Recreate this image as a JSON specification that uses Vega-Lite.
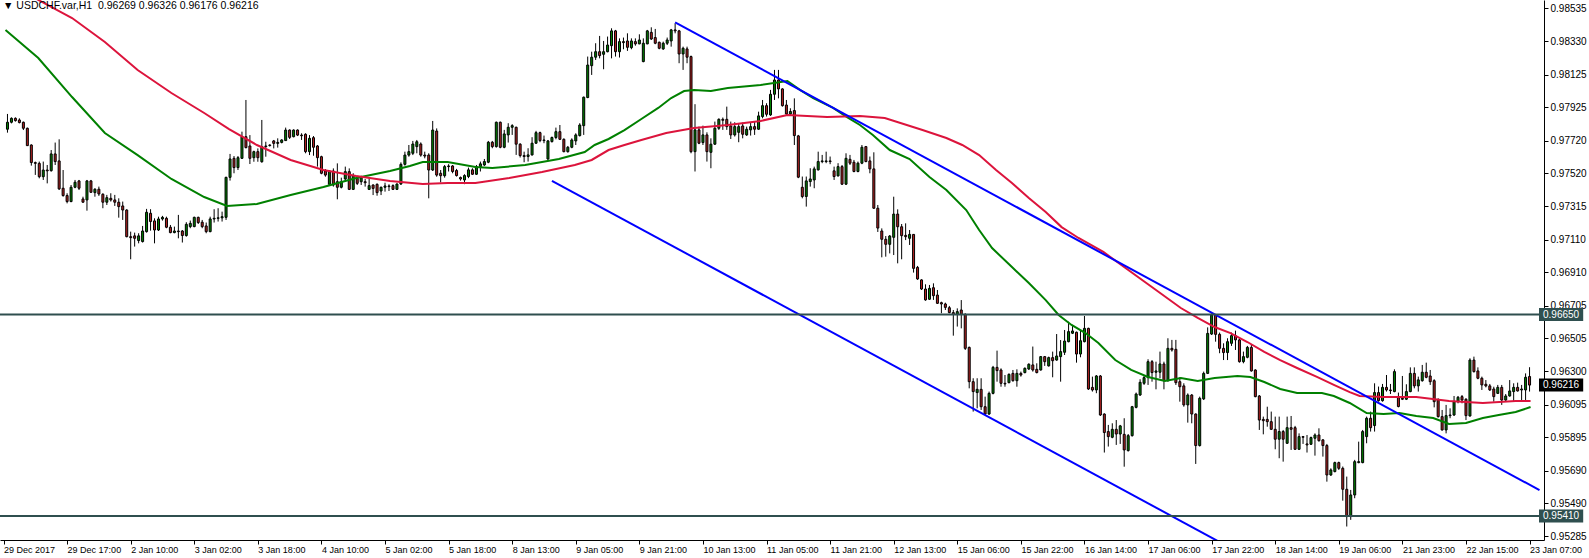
{
"$schema":"https://vega.github.io/schema/vega-lite/v6.json",
"width":1544,"height":540,
"autosize":{"type":"none"},
"padding":{"left":0,"top":0,"right":45,"bottom":18},
"background":"white",
"config":{"view":{"stroke":null},"font":"Liberation Sans","axis":{"labelOverlap":false,"labelFlush":false,"labelBound":false,"grid":false}},
"title":{"text":"▼ USDCHF.var,H1\u00a0\u00a00.96269 0.96326 0.96176 0.96216","anchor":"start","frame":"group","orient":"top","offset":-11,"font":"Liberation Sans","fontSize":10.5,"fontWeight":"normal","color":"black","dx":3},
"datasets":{
"bars":[
{"i":1,"o":0.97790,"h":0.97884,"l":0.97769,"c":0.97833},
{"i":2,"o":0.97833,"h":0.97863,"l":0.97826,"c":0.97857},
{"i":3,"o":0.97857,"h":0.97863,"l":0.97837,"c":0.97843},
{"i":4,"o":0.97847,"h":0.97857,"l":0.97826,"c":0.97831},
{"i":5,"o":0.97833,"h":0.97837,"l":0.97785,"c":0.97796},
{"i":6,"o":0.97796,"h":0.97800,"l":0.97687,"c":0.97689},
{"i":7,"o":0.97693,"h":0.97697,"l":0.97566,"c":0.97585},
{"i":8,"o":0.97585,"h":0.97591,"l":0.97509,"c":0.97580},
{"i":9,"o":0.97580,"h":0.97591,"l":0.97488,"c":0.97498},
{"i":10,"o":0.97498,"h":0.97591,"l":0.97478,"c":0.97539},
{"i":11,"o":0.97539,"h":0.97570,"l":0.97457,"c":0.97534},
{"i":12,"o":0.97535,"h":0.97662,"l":0.97529,"c":0.97638},
{"i":13,"o":0.97638,"h":0.97708,"l":0.97570,"c":0.97591},
{"i":14,"o":0.97595,"h":0.97728,"l":0.97416,"c":0.97423},
{"i":15,"o":0.97427,"h":0.97539,"l":0.97375,"c":0.97382},
{"i":16,"o":0.97382,"h":0.97396,"l":0.97334,"c":0.97345},
{"i":17,"o":0.97345,"h":0.97447,"l":0.97341,"c":0.97433},
{"i":18,"o":0.97433,"h":0.97478,"l":0.97427,"c":0.97464},
{"i":19,"o":0.97472,"h":0.97478,"l":0.97416,"c":0.97427},
{"i":20,"o":0.97361,"h":0.97375,"l":0.97339,"c":0.97341},
{"i":21,"o":0.97355,"h":0.97478,"l":0.97289,"c":0.97472},
{"i":22,"o":0.97472,"h":0.97478,"l":0.97400,"c":0.97402},
{"i":23,"o":0.97400,"h":0.97427,"l":0.97375,"c":0.97421},
{"i":24,"o":0.97421,"h":0.97437,"l":0.97380,"c":0.97392},
{"i":25,"o":0.97390,"h":0.97396,"l":0.97304,"c":0.97341},
{"i":26,"o":0.97341,"h":0.97386,"l":0.97324,"c":0.97369},
{"i":27,"o":0.97365,"h":0.97396,"l":0.97345,"c":0.97355},
{"i":28,"o":0.97355,"h":0.97386,"l":0.97318,"c":0.97341},
{"i":29,"o":0.97341,"h":0.97365,"l":0.97246,"c":0.97314},
{"i":30,"o":0.97318,"h":0.97345,"l":0.97232,"c":0.97293},
{"i":31,"o":0.97293,"h":0.97298,"l":0.97125,"c":0.97129},
{"i":32,"o":0.97129,"h":0.97160,"l":0.96990,"c":0.97123},
{"i":33,"o":0.97134,"h":0.97154,"l":0.97068,"c":0.97119},
{"i":34,"o":0.97105,"h":0.97150,"l":0.97088,"c":0.97134},
{"i":35,"o":0.97099,"h":0.97195,"l":0.97093,"c":0.97164},
{"i":36,"o":0.97160,"h":0.97300,"l":0.97154,"c":0.97279},
{"i":37,"o":0.97273,"h":0.97298,"l":0.97166,"c":0.97222},
{"i":38,"o":0.97226,"h":0.97242,"l":0.97088,"c":0.97170},
{"i":39,"o":0.97170,"h":0.97252,"l":0.97164,"c":0.97238},
{"i":40,"o":0.97238,"h":0.97257,"l":0.97228,"c":0.97248},
{"i":41,"o":0.97242,"h":0.97252,"l":0.97181,"c":0.97187},
{"i":42,"o":0.97187,"h":0.97201,"l":0.97150,"c":0.97154},
{"i":43,"o":0.97154,"h":0.97191,"l":0.97150,"c":0.97164},
{"i":44,"o":0.97164,"h":0.97263,"l":0.97119,"c":0.97160},
{"i":45,"o":0.97164,"h":0.97170,"l":0.97093,"c":0.97136},
{"i":46,"o":0.97136,"h":0.97218,"l":0.97129,"c":0.97205},
{"i":47,"o":0.97191,"h":0.97228,"l":0.97181,"c":0.97211},
{"i":48,"o":0.97191,"h":0.97252,"l":0.97187,"c":0.97248},
{"i":49,"o":0.97248,"h":0.97252,"l":0.97207,"c":0.97216},
{"i":50,"o":0.97218,"h":0.97232,"l":0.97181,"c":0.97191},
{"i":51,"o":0.97195,"h":0.97216,"l":0.97150,"c":0.97160},
{"i":52,"o":0.97160,"h":0.97252,"l":0.97156,"c":0.97238},
{"i":53,"o":0.97238,"h":0.97298,"l":0.97216,"c":0.97242},
{"i":54,"o":0.97242,"h":0.97304,"l":0.97222,"c":0.97245},
{"i":55,"o":0.97245,"h":0.97283,"l":0.97222,"c":0.97252},
{"i":56,"o":0.97248,"h":0.97498,"l":0.97232,"c":0.97494},
{"i":57,"o":0.97494,"h":0.97638,"l":0.97474,"c":0.97607},
{"i":58,"o":0.97611,"h":0.97625,"l":0.97519,"c":0.97554},
{"i":59,"o":0.97554,"h":0.97625,"l":0.97539,"c":0.97615},
{"i":60,"o":0.97611,"h":0.97775,"l":0.97607,"c":0.97744},
{"i":61,"o":0.97744,"h":0.97970,"l":0.97672,"c":0.97677},
{"i":62,"o":0.97687,"h":0.97754,"l":0.97576,"c":0.97611},
{"i":63,"o":0.97615,"h":0.97658,"l":0.97590,"c":0.97652},
{"i":64,"o":0.97652,"h":0.97672,"l":0.97590,"c":0.97615},
{"i":65,"o":0.97590,"h":0.97847,"l":0.97584,"c":0.97683},
{"i":66,"o":0.97683,"h":0.97713,"l":0.97621,"c":0.97687},
{"i":67,"o":0.97690,"h":0.97697,"l":0.97683,"c":0.97693},
{"i":68,"o":0.97718,"h":0.97724,"l":0.97672,"c":0.97703},
{"i":69,"o":0.97703,"h":0.97734,"l":0.97677,"c":0.97709},
{"i":70,"o":0.97709,"h":0.97728,"l":0.97703,"c":0.97724},
{"i":71,"o":0.97720,"h":0.97800,"l":0.97718,"c":0.97785},
{"i":72,"o":0.97785,"h":0.97789,"l":0.97730,"c":0.97740},
{"i":73,"o":0.97744,"h":0.97789,"l":0.97740,"c":0.97785},
{"i":74,"o":0.97785,"h":0.97789,"l":0.97748,"c":0.97754},
{"i":75,"o":0.97754,"h":0.97765,"l":0.97724,"c":0.97750},
{"i":76,"o":0.97759,"h":0.97765,"l":0.97642,"c":0.97652},
{"i":77,"o":0.97652,"h":0.97754,"l":0.97631,"c":0.97734},
{"i":78,"o":0.97738,"h":0.97748,"l":0.97627,"c":0.97679},
{"i":79,"o":0.97687,"h":0.97693,"l":0.97560,"c":0.97615},
{"i":80,"o":0.97621,"h":0.97627,"l":0.97513,"c":0.97519},
{"i":81,"o":0.97533,"h":0.97545,"l":0.97498,"c":0.97508},
{"i":82,"o":0.97451,"h":0.97539,"l":0.97447,"c":0.97533},
{"i":83,"o":0.97533,"h":0.97549,"l":0.97437,"c":0.97447},
{"i":84,"o":0.97467,"h":0.97580,"l":0.97359,"c":0.97433},
{"i":85,"o":0.97433,"h":0.97492,"l":0.97426,"c":0.97467},
{"i":86,"o":0.97484,"h":0.97560,"l":0.97467,"c":0.97529},
{"i":87,"o":0.97529,"h":0.97549,"l":0.97416,"c":0.97420},
{"i":88,"o":0.97420,"h":0.97519,"l":0.97416,"c":0.97504},
{"i":89,"o":0.97488,"h":0.97504,"l":0.97447,"c":0.97457},
{"i":90,"o":0.97467,"h":0.97504,"l":0.97447,"c":0.97492},
{"i":91,"o":0.97467,"h":0.97484,"l":0.97437,"c":0.97461},
{"i":92,"o":0.97420,"h":0.97488,"l":0.97416,"c":0.97443},
{"i":93,"o":0.97447,"h":0.97451,"l":0.97385,"c":0.97426},
{"i":94,"o":0.97451,"h":0.97457,"l":0.97381,"c":0.97400},
{"i":95,"o":0.97410,"h":0.97437,"l":0.97385,"c":0.97433},
{"i":96,"o":0.97433,"h":0.97461,"l":0.97406,"c":0.97441},
{"i":97,"o":0.97441,"h":0.97451,"l":0.97410,"c":0.97437},
{"i":98,"o":0.97443,"h":0.97451,"l":0.97416,"c":0.97420},
{"i":99,"o":0.97420,"h":0.97457,"l":0.97416,"c":0.97453},
{"i":100,"o":0.97453,"h":0.97586,"l":0.97447,"c":0.97574},
{"i":101,"o":0.97574,"h":0.97652,"l":0.97566,"c":0.97631},
{"i":102,"o":0.97631,"h":0.97693,"l":0.97621,"c":0.97652},
{"i":103,"o":0.97642,"h":0.97718,"l":0.97631,"c":0.97699},
{"i":104,"o":0.97683,"h":0.97724,"l":0.97642,"c":0.97713},
{"i":105,"o":0.97699,"h":0.97709,"l":0.97621,"c":0.97631},
{"i":106,"o":0.97631,"h":0.97652,"l":0.97611,"c":0.97625},
{"i":107,"o":0.97631,"h":0.97642,"l":0.97365,"c":0.97539},
{"i":108,"o":0.97539,"h":0.97841,"l":0.97533,"c":0.97785},
{"i":109,"o":0.97779,"h":0.97795,"l":0.97498,"c":0.97508},
{"i":110,"o":0.97519,"h":0.97539,"l":0.97463,"c":0.97504},
{"i":111,"o":0.97504,"h":0.97570,"l":0.97492,"c":0.97560},
{"i":112,"o":0.97560,"h":0.97575,"l":0.97530,"c":0.97564},
{"i":113,"o":0.97564,"h":0.97570,"l":0.97519,"c":0.97530},
{"i":114,"o":0.97536,"h":0.97546,"l":0.97499,"c":0.97505},
{"i":115,"o":0.97493,"h":0.97499,"l":0.97474,"c":0.97484},
{"i":116,"o":0.97478,"h":0.97513,"l":0.97452,"c":0.97505},
{"i":117,"o":0.97499,"h":0.97554,"l":0.97489,"c":0.97540},
{"i":118,"o":0.97540,"h":0.97550,"l":0.97509,"c":0.97513},
{"i":119,"o":0.97513,"h":0.97570,"l":0.97509,"c":0.97560},
{"i":120,"o":0.97560,"h":0.97591,"l":0.97530,"c":0.97577},
{"i":121,"o":0.97570,"h":0.97607,"l":0.97564,"c":0.97591},
{"i":122,"o":0.97587,"h":0.97718,"l":0.97581,"c":0.97710},
{"i":123,"o":0.97710,"h":0.97718,"l":0.97673,"c":0.97683},
{"i":124,"o":0.97683,"h":0.97837,"l":0.97677,"c":0.97833},
{"i":125,"o":0.97833,"h":0.97837,"l":0.97673,"c":0.97679},
{"i":126,"o":0.97679,"h":0.97786,"l":0.97673,"c":0.97761},
{"i":127,"o":0.97755,"h":0.97827,"l":0.97708,"c":0.97802},
{"i":128,"o":0.97802,"h":0.97821,"l":0.97755,"c":0.97812},
{"i":129,"o":0.97802,"h":0.97806,"l":0.97632,"c":0.97698},
{"i":130,"o":0.97698,"h":0.97704,"l":0.97616,"c":0.97628},
{"i":131,"o":0.97628,"h":0.97652,"l":0.97587,"c":0.97622},
{"i":132,"o":0.97622,"h":0.97673,"l":0.97591,"c":0.97632},
{"i":133,"o":0.97632,"h":0.97741,"l":0.97628,"c":0.97704},
{"i":134,"o":0.97704,"h":0.97780,"l":0.97700,"c":0.97769},
{"i":135,"o":0.97769,"h":0.97775,"l":0.97710,"c":0.97720},
{"i":136,"o":0.97720,"h":0.97751,"l":0.97704,"c":0.97724},
{"i":137,"o":0.97607,"h":0.97724,"l":0.97601,"c":0.97718},
{"i":138,"o":0.97714,"h":0.97745,"l":0.97708,"c":0.97739},
{"i":139,"o":0.97739,"h":0.97800,"l":0.97728,"c":0.97775},
{"i":140,"o":0.97775,"h":0.97816,"l":0.97724,"c":0.97728},
{"i":141,"o":0.97728,"h":0.97734,"l":0.97648,"c":0.97652},
{"i":142,"o":0.97652,"h":0.97687,"l":0.97646,"c":0.97679},
{"i":143,"o":0.97679,"h":0.97734,"l":0.97673,"c":0.97724},
{"i":144,"o":0.97718,"h":0.97765,"l":0.97693,"c":0.97755},
{"i":145,"o":0.97751,"h":0.97827,"l":0.97745,"c":0.97816},
{"i":146,"o":0.97812,"h":0.97991,"l":0.97755,"c":0.97987},
{"i":147,"o":0.97985,"h":0.98237,"l":0.97981,"c":0.98185},
{"i":148,"o":0.98181,"h":0.98267,"l":0.98124,"c":0.98233},
{"i":149,"o":0.98233,"h":0.98319,"l":0.98216,"c":0.98267},
{"i":150,"o":0.98267,"h":0.98364,"l":0.98226,"c":0.98243},
{"i":151,"o":0.98251,"h":0.98333,"l":0.98159,"c":0.98267},
{"i":152,"o":0.98267,"h":0.98360,"l":0.98263,"c":0.98308},
{"i":153,"o":0.98304,"h":0.98411,"l":0.98226,"c":0.98395},
{"i":154,"o":0.98395,"h":0.98401,"l":0.98237,"c":0.98267},
{"i":155,"o":0.98267,"h":0.98349,"l":0.98231,"c":0.98329},
{"i":156,"o":0.98329,"h":0.98354,"l":0.98282,"c":0.98323},
{"i":157,"o":0.98333,"h":0.98380,"l":0.98272,"c":0.98294},
{"i":158,"o":0.98292,"h":0.98349,"l":0.98282,"c":0.98333},
{"i":159,"o":0.98329,"h":0.98349,"l":0.98304,"c":0.98315},
{"i":160,"o":0.98315,"h":0.98374,"l":0.98313,"c":0.98339},
{"i":161,"o":0.98206,"h":0.98349,"l":0.98202,"c":0.98319},
{"i":162,"o":0.98315,"h":0.98401,"l":0.98313,"c":0.98395},
{"i":163,"o":0.98386,"h":0.98417,"l":0.98339,"c":0.98345},
{"i":164,"o":0.98354,"h":0.98407,"l":0.98313,"c":0.98319},
{"i":165,"o":0.98325,"h":0.98329,"l":0.98282,"c":0.98288},
{"i":166,"o":0.98284,"h":0.98329,"l":0.98278,"c":0.98319},
{"i":167,"o":0.98319,"h":0.98354,"l":0.98308,"c":0.98339},
{"i":168,"o":0.98333,"h":0.98407,"l":0.98298,"c":0.98401},
{"i":169,"o":0.98401,"h":0.98442,"l":0.98380,"c":0.98395},
{"i":170,"o":0.98395,"h":0.98401,"l":0.98196,"c":0.98253},
{"i":171,"o":0.98253,"h":0.98298,"l":0.98155,"c":0.98288},
{"i":172,"o":0.98284,"h":0.98298,"l":0.98196,"c":0.98233},
{"i":173,"o":0.98237,"h":0.98243,"l":0.97642,"c":0.97652},
{"i":174,"o":0.97652,"h":0.97944,"l":0.97530,"c":0.97786},
{"i":175,"o":0.97786,"h":0.97806,"l":0.97698,"c":0.97704},
{"i":176,"o":0.97708,"h":0.97812,"l":0.97693,"c":0.97755},
{"i":177,"o":0.97755,"h":0.97771,"l":0.97591,"c":0.97652},
{"i":178,"o":0.97648,"h":0.97734,"l":0.97550,"c":0.97698},
{"i":179,"o":0.97698,"h":0.97837,"l":0.97693,"c":0.97796},
{"i":180,"o":0.97796,"h":0.97857,"l":0.97786,"c":0.97851},
{"i":181,"o":0.97851,"h":0.97862,"l":0.97786,"c":0.97845},
{"i":182,"o":0.97851,"h":0.97929,"l":0.97786,"c":0.97806},
{"i":183,"o":0.97810,"h":0.97837,"l":0.97730,"c":0.97755},
{"i":184,"o":0.97755,"h":0.97833,"l":0.97745,"c":0.97806},
{"i":185,"o":0.97771,"h":0.97827,"l":0.97710,"c":0.97806},
{"i":186,"o":0.97810,"h":0.97831,"l":0.97734,"c":0.97759},
{"i":187,"o":0.97755,"h":0.97806,"l":0.97749,"c":0.97790},
{"i":188,"o":0.97786,"h":0.97833,"l":0.97751,"c":0.97806},
{"i":189,"o":0.97806,"h":0.97837,"l":0.97755,"c":0.97790},
{"i":190,"o":0.97790,"h":0.97898,"l":0.97786,"c":0.97872},
{"i":191,"o":0.97868,"h":0.97970,"l":0.97857,"c":0.97935},
{"i":192,"o":0.97935,"h":0.97950,"l":0.97868,"c":0.97882},
{"i":193,"o":0.97878,"h":0.98032,"l":0.97872,"c":0.98005},
{"i":194,"o":0.98005,"h":0.98155,"l":0.97970,"c":0.98093},
{"i":195,"o":0.98093,"h":0.98155,"l":0.97980,"c":0.98038},
{"i":196,"o":0.98038,"h":0.98042,"l":0.97929,"c":0.97935},
{"i":197,"o":0.97939,"h":0.97970,"l":0.97878,"c":0.97884},
{"i":198,"o":0.97884,"h":0.97919,"l":0.97878,"c":0.97899},
{"i":199,"o":0.97905,"h":0.97980,"l":0.97693,"c":0.97751},
{"i":200,"o":0.97749,"h":0.97755,"l":0.97489,"c":0.97495},
{"i":201,"o":0.97433,"h":0.97499,"l":0.97365,"c":0.97376},
{"i":202,"o":0.97376,"h":0.97499,"l":0.97314,"c":0.97472},
{"i":203,"o":0.97468,"h":0.97550,"l":0.97437,"c":0.97484},
{"i":204,"o":0.97478,"h":0.97560,"l":0.97427,"c":0.97546},
{"i":205,"o":0.97540,"h":0.97652,"l":0.97536,"c":0.97591},
{"i":206,"o":0.97591,"h":0.97632,"l":0.97581,"c":0.97595},
{"i":207,"o":0.97591,"h":0.97652,"l":0.97581,"c":0.97595},
{"i":208,"o":0.97595,"h":0.97622,"l":0.97575,"c":0.97591},
{"i":209,"o":0.97534,"h":0.97560,"l":0.97478,"c":0.97499},
{"i":210,"o":0.97503,"h":0.97581,"l":0.97499,"c":0.97560},
{"i":211,"o":0.97560,"h":0.97570,"l":0.97447,"c":0.97452},
{"i":212,"o":0.97452,"h":0.97642,"l":0.97447,"c":0.97611},
{"i":213,"o":0.97605,"h":0.97632,"l":0.97570,"c":0.97581},
{"i":214,"o":0.97587,"h":0.97601,"l":0.97525,"c":0.97530},
{"i":215,"o":0.97530,"h":0.97591,"l":0.97525,"c":0.97581},
{"i":216,"o":0.97581,"h":0.97693,"l":0.97575,"c":0.97679},
{"i":217,"o":0.97683,"h":0.97687,"l":0.97587,"c":0.97591},
{"i":218,"o":0.97595,"h":0.97622,"l":0.97519,"c":0.97546},
{"i":219,"o":0.97546,"h":0.97648,"l":0.97300,"c":0.97304},
{"i":220,"o":0.97304,"h":0.97324,"l":0.97158,"c":0.97182},
{"i":221,"o":0.97164,"h":0.97180,"l":0.97002,"c":0.97113},
{"i":222,"o":0.97113,"h":0.97133,"l":0.97006,"c":0.97082},
{"i":223,"o":0.97082,"h":0.97139,"l":0.97026,"c":0.97133},
{"i":224,"o":0.97125,"h":0.97375,"l":0.97016,"c":0.97268},
{"i":225,"o":0.97268,"h":0.97297,"l":0.96965,"c":0.97190},
{"i":226,"o":0.97190,"h":0.97207,"l":0.96990,"c":0.97135},
{"i":227,"o":0.97137,"h":0.97211,"l":0.97108,"c":0.97129},
{"i":228,"o":0.97119,"h":0.97170,"l":0.97078,"c":0.97143},
{"i":229,"o":0.97143,"h":0.97145,"l":0.96908,"c":0.96934},
{"i":230,"o":0.96940,"h":0.96949,"l":0.96863,"c":0.96869},
{"i":231,"o":0.96863,"h":0.96867,"l":0.96801,"c":0.96807},
{"i":232,"o":0.96807,"h":0.96836,"l":0.96735,"c":0.96740},
{"i":233,"o":0.96744,"h":0.96832,"l":0.96740,"c":0.96811},
{"i":234,"o":0.96815,"h":0.96842,"l":0.96740,"c":0.96766},
{"i":235,"o":0.96770,"h":0.96801,"l":0.96715,"c":0.96719},
{"i":236,"o":0.96723,"h":0.96729,"l":0.96658,"c":0.96715},
{"i":237,"o":0.96715,"h":0.96723,"l":0.96678,"c":0.96694},
{"i":238,"o":0.96692,"h":0.96703,"l":0.96658,"c":0.96662},
{"i":239,"o":0.96662,"h":0.96678,"l":0.96520,"c":0.96651},
{"i":240,"o":0.96651,"h":0.96688,"l":0.96576,"c":0.96668},
{"i":241,"o":0.96678,"h":0.96739,"l":0.96565,"c":0.96651},
{"i":242,"o":0.96651,"h":0.96658,"l":0.96432,"c":0.96442},
{"i":243,"o":0.96448,"h":0.96453,"l":0.96196,"c":0.96237},
{"i":244,"o":0.96237,"h":0.96258,"l":0.96053,"c":0.96176},
{"i":245,"o":0.96170,"h":0.96258,"l":0.96073,"c":0.96190},
{"i":246,"o":0.96190,"h":0.96258,"l":0.96063,"c":0.96083},
{"i":247,"o":0.96083,"h":0.96145,"l":0.96032,"c":0.96038},
{"i":248,"o":0.96038,"h":0.96176,"l":0.96032,"c":0.96165},
{"i":249,"o":0.96165,"h":0.96334,"l":0.96159,"c":0.96325},
{"i":250,"o":0.96325,"h":0.96428,"l":0.96237,"c":0.96305},
{"i":251,"o":0.96309,"h":0.96319,"l":0.96206,"c":0.96227},
{"i":252,"o":0.96227,"h":0.96278,"l":0.96206,"c":0.96223},
{"i":253,"o":0.96231,"h":0.96288,"l":0.96227,"c":0.96282},
{"i":254,"o":0.96288,"h":0.96309,"l":0.96237,"c":0.96243},
{"i":255,"o":0.96243,"h":0.96313,"l":0.96206,"c":0.96288},
{"i":256,"o":0.96288,"h":0.96299,"l":0.96268,"c":0.96278},
{"i":257,"o":0.96293,"h":0.96325,"l":0.96288,"c":0.96319},
{"i":258,"o":0.96315,"h":0.96350,"l":0.96309,"c":0.96344},
{"i":259,"o":0.96340,"h":0.96453,"l":0.96299,"c":0.96309},
{"i":260,"o":0.96313,"h":0.96350,"l":0.96288,"c":0.96293},
{"i":261,"o":0.96309,"h":0.96395,"l":0.96305,"c":0.96391},
{"i":262,"o":0.96391,"h":0.96395,"l":0.96334,"c":0.96360},
{"i":263,"o":0.96334,"h":0.96391,"l":0.96330,"c":0.96385},
{"i":264,"o":0.96385,"h":0.96422,"l":0.96264,"c":0.96366},
{"i":265,"o":0.96370,"h":0.96530,"l":0.96366,"c":0.96395},
{"i":266,"o":0.96391,"h":0.96493,"l":0.96237,"c":0.96422},
{"i":267,"o":0.96418,"h":0.96555,"l":0.96401,"c":0.96487},
{"i":268,"o":0.96483,"h":0.96606,"l":0.96479,"c":0.96545},
{"i":269,"o":0.96535,"h":0.96586,"l":0.96530,"c":0.96549},
{"i":270,"o":0.96541,"h":0.96545,"l":0.96354,"c":0.96407},
{"i":271,"o":0.96407,"h":0.96555,"l":0.96387,"c":0.96489},
{"i":272,"o":0.96483,"h":0.96641,"l":0.96479,"c":0.96565},
{"i":273,"o":0.96565,"h":0.96569,"l":0.96186,"c":0.96192},
{"i":274,"o":0.96202,"h":0.96268,"l":0.96176,"c":0.96186},
{"i":275,"o":0.96186,"h":0.96278,"l":0.96166,"c":0.96272},
{"i":276,"o":0.96272,"h":0.96278,"l":0.96026,"c":0.96032},
{"i":277,"o":0.96038,"h":0.96042,"l":0.95801,"c":0.95924},
{"i":278,"o":0.95930,"h":0.95971,"l":0.95838,"c":0.95899},
{"i":279,"o":0.95895,"h":0.95981,"l":0.95889,"c":0.95944},
{"i":280,"o":0.95944,"h":0.96001,"l":0.95848,"c":0.95915},
{"i":281,"o":0.95915,"h":0.95971,"l":0.95854,"c":0.95965},
{"i":282,"o":0.95913,"h":0.96012,"l":0.95714,"c":0.95817},
{"i":283,"o":0.95813,"h":0.95915,"l":0.95807,"c":0.95905},
{"i":284,"o":0.95905,"h":0.96088,"l":0.95899,"c":0.96083},
{"i":285,"o":0.96079,"h":0.96170,"l":0.96073,"c":0.96161},
{"i":286,"o":0.96155,"h":0.96252,"l":0.96149,"c":0.96233},
{"i":287,"o":0.96227,"h":0.96278,"l":0.96217,"c":0.96262},
{"i":288,"o":0.96262,"h":0.96375,"l":0.96217,"c":0.96360},
{"i":289,"o":0.96360,"h":0.96370,"l":0.96237,"c":0.96293},
{"i":290,"o":0.96295,"h":0.96360,"l":0.96190,"c":0.96303},
{"i":291,"o":0.96295,"h":0.96422,"l":0.96258,"c":0.96346},
{"i":292,"o":0.96346,"h":0.96360,"l":0.96190,"c":0.96243},
{"i":293,"o":0.96243,"h":0.96504,"l":0.96237,"c":0.96442},
{"i":294,"o":0.96442,"h":0.96494,"l":0.96422,"c":0.96432},
{"i":295,"o":0.96436,"h":0.96494,"l":0.96217,"c":0.96231},
{"i":296,"o":0.96237,"h":0.96264,"l":0.96114,"c":0.96206},
{"i":297,"o":0.96211,"h":0.96227,"l":0.96083,"c":0.96094},
{"i":298,"o":0.96094,"h":0.96165,"l":0.95985,"c":0.96155},
{"i":299,"o":0.96155,"h":0.96161,"l":0.95981,"c":0.96038},
{"i":300,"o":0.96038,"h":0.96042,"l":0.95731,"c":0.95844},
{"i":301,"o":0.95844,"h":0.96145,"l":0.95838,"c":0.96135},
{"i":302,"o":0.96131,"h":0.96299,"l":0.96124,"c":0.96288},
{"i":303,"o":0.96288,"h":0.96571,"l":0.96284,"c":0.96534},
{"i":304,"o":0.96530,"h":0.96657,"l":0.96524,"c":0.96647},
{"i":305,"o":0.96647,"h":0.96653,"l":0.96483,"c":0.96528},
{"i":306,"o":0.96528,"h":0.96539,"l":0.96412,"c":0.96442},
{"i":307,"o":0.96442,"h":0.96473,"l":0.96370,"c":0.96416},
{"i":308,"o":0.96416,"h":0.96504,"l":0.96370,"c":0.96483},
{"i":309,"o":0.96473,"h":0.96539,"l":0.96457,"c":0.96520},
{"i":310,"o":0.96520,"h":0.96551,"l":0.96432,"c":0.96494},
{"i":311,"o":0.96494,"h":0.96500,"l":0.96354,"c":0.96360},
{"i":312,"o":0.96360,"h":0.96422,"l":0.96350,"c":0.96391},
{"i":313,"o":0.96387,"h":0.96457,"l":0.96381,"c":0.96448},
{"i":314,"o":0.96448,"h":0.96463,"l":0.96299,"c":0.96303},
{"i":315,"o":0.96309,"h":0.96313,"l":0.96141,"c":0.96145},
{"i":316,"o":0.96149,"h":0.96155,"l":0.95940,"c":0.96001},
{"i":317,"o":0.96005,"h":0.96022,"l":0.95913,"c":0.95997},
{"i":318,"o":0.96005,"h":0.96083,"l":0.95960,"c":0.95991},
{"i":319,"o":0.95991,"h":0.96053,"l":0.95940,"c":0.95944},
{"i":320,"o":0.95944,"h":0.96022,"l":0.95821,"c":0.95883},
{"i":321,"o":0.95883,"h":0.96022,"l":0.95766,"c":0.95930},
{"i":322,"o":0.95930,"h":0.95940,"l":0.95745,"c":0.95883},
{"i":323,"o":0.95858,"h":0.96022,"l":0.95854,"c":0.95954},
{"i":324,"o":0.95954,"h":0.96026,"l":0.95817,"c":0.95944},
{"i":325,"o":0.95954,"h":0.95965,"l":0.95817,"c":0.95821},
{"i":326,"o":0.95821,"h":0.95919,"l":0.95817,"c":0.95899},
{"i":327,"o":0.95899,"h":0.95903,"l":0.95854,"c":0.95895},
{"i":328,"o":0.95854,"h":0.95909,"l":0.95801,"c":0.95848},
{"i":329,"o":0.95852,"h":0.95899,"l":0.95848,"c":0.95893},
{"i":330,"o":0.95889,"h":0.95919,"l":0.95782,"c":0.95909},
{"i":331,"o":0.95909,"h":0.95950,"l":0.95868,"c":0.95874},
{"i":332,"o":0.95879,"h":0.95883,"l":0.95776,"c":0.95844},
{"i":333,"o":0.95844,"h":0.95854,"l":0.95622,"c":0.95663},
{"i":334,"o":0.95663,"h":0.95704,"l":0.95657,"c":0.95694},
{"i":335,"o":0.95684,"h":0.95745,"l":0.95679,"c":0.95739},
{"i":336,"o":0.95739,"h":0.95745,"l":0.95694,"c":0.95704},
{"i":337,"o":0.95704,"h":0.95715,"l":0.95505,"c":0.95575},
{"i":338,"o":0.95575,"h":0.95653,"l":0.95346,"c":0.95407},
{"i":339,"o":0.95407,"h":0.95571,"l":0.95387,"c":0.95540},
{"i":340,"o":0.95540,"h":0.95756,"l":0.95520,"c":0.95745},
{"i":341,"o":0.95739,"h":0.95868,"l":0.95735,"c":0.95745},
{"i":342,"o":0.95739,"h":0.95940,"l":0.95735,"c":0.95930},
{"i":343,"o":0.95899,"h":0.96022,"l":0.95858,"c":0.96012},
{"i":344,"o":0.96012,"h":0.96053,"l":0.95930,"c":0.95954},
{"i":345,"o":0.95967,"h":0.96227,"l":0.95930,"c":0.96170},
{"i":346,"o":0.96170,"h":0.96207,"l":0.96114,"c":0.96120},
{"i":347,"o":0.96120,"h":0.96223,"l":0.96114,"c":0.96202},
{"i":348,"o":0.96202,"h":0.96278,"l":0.96176,"c":0.96186},
{"i":349,"o":0.96186,"h":0.96223,"l":0.96161,"c":0.96182},
{"i":350,"o":0.96176,"h":0.96313,"l":0.96172,"c":0.96299},
{"i":351,"o":0.96139,"h":0.96170,"l":0.96079,"c":0.96084},
{"i":352,"o":0.96135,"h":0.96272,"l":0.96124,"c":0.96129},
{"i":353,"o":0.96129,"h":0.96221,"l":0.96124,"c":0.96176},
{"i":354,"o":0.96176,"h":0.96325,"l":0.96172,"c":0.96288},
{"i":355,"o":0.96288,"h":0.96325,"l":0.96196,"c":0.96211},
{"i":356,"o":0.96211,"h":0.96268,"l":0.96176,"c":0.96248},
{"i":357,"o":0.96243,"h":0.96340,"l":0.96237,"c":0.96295},
{"i":358,"o":0.96295,"h":0.96354,"l":0.96258,"c":0.96264},
{"i":359,"o":0.96272,"h":0.96309,"l":0.96217,"c":0.96237},
{"i":360,"o":0.96243,"h":0.96252,"l":0.96079,"c":0.96114},
{"i":361,"o":0.96124,"h":0.96135,"l":0.96016,"c":0.96022},
{"i":362,"o":0.96022,"h":0.96063,"l":0.95936,"c":0.95940},
{"i":363,"o":0.95940,"h":0.96094,"l":0.95919,"c":0.96028},
{"i":364,"o":0.96028,"h":0.96073,"l":0.96012,"c":0.96032},
{"i":365,"o":0.96032,"h":0.96149,"l":0.96026,"c":0.96114},
{"i":366,"o":0.96114,"h":0.96149,"l":0.96104,"c":0.96141},
{"i":367,"o":0.96145,"h":0.96155,"l":0.96104,"c":0.96124},
{"i":368,"o":0.96129,"h":0.96135,"l":0.96001,"c":0.96028},
{"i":369,"o":0.96026,"h":0.96381,"l":0.96022,"c":0.96370},
{"i":370,"o":0.96370,"h":0.96391,"l":0.96293,"c":0.96299},
{"i":371,"o":0.96303,"h":0.96325,"l":0.96252,"c":0.96258},
{"i":372,"o":0.96258,"h":0.96268,"l":0.96186,"c":0.96217},
{"i":373,"o":0.96221,"h":0.96247,"l":0.96202,"c":0.96211},
{"i":374,"o":0.96211,"h":0.96223,"l":0.96180,"c":0.96186},
{"i":375,"o":0.96192,"h":0.96206,"l":0.96114,"c":0.96145},
{"i":376,"o":0.96165,"h":0.96217,"l":0.96161,"c":0.96202},
{"i":377,"o":0.96202,"h":0.96217,"l":0.96094,"c":0.96124},
{"i":378,"o":0.96124,"h":0.96161,"l":0.96118,"c":0.96149},
{"i":379,"o":0.96149,"h":0.96247,"l":0.96145,"c":0.96180},
{"i":380,"o":0.96176,"h":0.96227,"l":0.96114,"c":0.96202},
{"i":381,"o":0.96202,"h":0.96231,"l":0.96176,"c":0.96180},
{"i":382,"o":0.96186,"h":0.96217,"l":0.96118,"c":0.96192},
{"i":383,"o":0.96186,"h":0.96288,"l":0.96124,"c":0.96264},
{"i":384,"o":0.96269,"h":0.96326,"l":0.96176,"c":0.96216}
],
"ma":[
{"s":"g","i":0.5,"p":0.98400},{"s":"g","i":8.75,"p":0.98228},{"s":"g","i":17.25,"p":0.97988},{"s":"g","i":25.5,"p":0.97767},{"s":"g","i":33.75,"p":0.97631},{"s":"g","i":42.25,"p":0.97484},{"s":"g","i":50.5,"p":0.97373},{"s":"g","i":56.25,"p":0.97318},{"s":"g","i":63.75,"p":0.97330},{"s":"g","i":72.25,"p":0.97385},{"s":"g","i":80.5,"p":0.97435},{"s":"g","i":88.75,"p":0.97490},{"s":"g","i":97.25,"p":0.97533},{"s":"g","i":102.25,"p":0.97564},{"s":"g","i":105.5,"p":0.97588},{"s":"g","i":111.75,"p":0.97588},{"s":"g","i":118.75,"p":0.97558},{"s":"g","i":123,"p":0.97551},{"s":"g","i":131.25,"p":0.97570},{"s":"g","i":139.75,"p":0.97607},{"s":"g","i":146.25,"p":0.97650},{"s":"g","i":148.75,"p":0.97693},{"s":"g","i":152.25,"p":0.97730},{"s":"g","i":156.25,"p":0.97785},{"s":"g","i":160.5,"p":0.97853},{"s":"g","i":164.75,"p":0.97921},{"s":"g","i":168,"p":0.97982},{"s":"g","i":171.25,"p":0.98025},{"s":"g","i":173.75,"p":0.98031},{"s":"g","i":178,"p":0.98025},{"s":"g","i":182.25,"p":0.98044},{"s":"g","i":190.5,"p":0.98062},{"s":"g","i":197.25,"p":0.98087},{"s":"g","i":200.5,"p":0.98031},{"s":"g","i":203.75,"p":0.97982},{"s":"g","i":208.75,"p":0.97921},{"s":"g","i":212.25,"p":0.97865},{"s":"g","i":215.5,"p":0.97816},{"s":"g","i":218.75,"p":0.97754},{"s":"g","i":223,"p":0.97662},{"s":"g","i":228,"p":0.97607},{"s":"g","i":233,"p":0.97496},{"s":"g","i":237.25,"p":0.97416},{"s":"g","i":242.25,"p":0.97293},{"s":"g","i":245.5,"p":0.97170},{"s":"g","i":248.75,"p":0.97059},{"s":"g","i":253.75,"p":0.96942},{"s":"g","i":258,"p":0.96844},{"s":"g","i":262.25,"p":0.96739},{"s":"g","i":265.5,"p":0.96647},{"s":"g","i":268.75,"p":0.96586},{"s":"g","i":272.25,"p":0.96536},{"s":"g","i":275.5,"p":0.96475},{"s":"g","i":279.75,"p":0.96370},{"s":"g","i":283.75,"p":0.96309},{"s":"g","i":288,"p":0.96266},{"s":"g","i":292.25,"p":0.96241},{"s":"g","i":296.25,"p":0.96260},{"s":"g","i":300.5,"p":0.96241},{"s":"g","i":304.75,"p":0.96260},{"s":"g","i":310.5,"p":0.96272},{"s":"g","i":313.75,"p":0.96266},{"s":"g","i":317.25,"p":0.96235},{"s":"g","i":321.25,"p":0.96192},{"s":"g","i":325.5,"p":0.96167},{"s":"g","i":331.75,"p":0.96167},{"s":"g","i":334.75,"p":0.96149},{"s":"g","i":338.75,"p":0.96106},{"s":"g","i":343,"p":0.96044},{"s":"g","i":347.25,"p":0.96038},{"s":"g","i":351.25,"p":0.96044},{"s":"g","i":355.5,"p":0.96026},{"s":"g","i":359.75,"p":0.96013},{"s":"g","i":363.75,"p":0.95977},{"s":"g","i":368,"p":0.95983},{"s":"g","i":372.25,"p":0.96013},{"s":"g","i":376.25,"p":0.96032},{"s":"g","i":380.5,"p":0.96050},{"s":"g","i":384.25,"p":0.96081},
{"s":"r","i":0.5,"p":0.98739},{"s":"r","i":8.75,"p":0.98585},{"s":"r","i":17.25,"p":0.98474},{"s":"r","i":25.5,"p":0.98327},{"s":"r","i":33.75,"p":0.98154},{"s":"r","i":42.25,"p":0.98013},{"s":"r","i":50.5,"p":0.97890},{"s":"r","i":56.75,"p":0.97791},{"s":"r","i":63.75,"p":0.97693},{"s":"r","i":72.25,"p":0.97601},{"s":"r","i":80.5,"p":0.97539},{"s":"r","i":88.75,"p":0.97502},{"s":"r","i":97.25,"p":0.97472},{"s":"r","i":105.5,"p":0.97453},{"s":"r","i":111.75,"p":0.97459},{"s":"r","i":118.75,"p":0.97459},{"s":"r","i":127.25,"p":0.97490},{"s":"r","i":135.5,"p":0.97527},{"s":"r","i":143.75,"p":0.97570},{"s":"r","i":148,"p":0.97601},{"s":"r","i":152.25,"p":0.97662},{"s":"r","i":156.25,"p":0.97693},{"s":"r","i":160.5,"p":0.97724},{"s":"r","i":166.75,"p":0.97767},{"s":"r","i":173.75,"p":0.97798},{"s":"r","i":182.25,"p":0.97816},{"s":"r","i":190.5,"p":0.97841},{"s":"r","i":197.25,"p":0.97878},{"s":"r","i":207.25,"p":0.97865},{"s":"r","i":215.5,"p":0.97871},{"s":"r","i":221.75,"p":0.97859},{"s":"r","i":231.25,"p":0.97785},{"s":"r","i":237.25,"p":0.97736},{"s":"r","i":241.25,"p":0.97693},{"s":"r","i":245.5,"p":0.97631},{"s":"r","i":249.75,"p":0.97539},{"s":"r","i":253.75,"p":0.97459},{"s":"r","i":258,"p":0.97367},{"s":"r","i":262.25,"p":0.97281},{"s":"r","i":266.25,"p":0.97188},{"s":"r","i":270.5,"p":0.97121},{"s":"r","i":276.75,"p":0.97035},{"s":"r","i":290,"p":0.96801},{"s":"r","i":296.25,"p":0.96690},{"s":"r","i":300.5,"p":0.96629},{"s":"r","i":304.75,"p":0.96573},{"s":"r","i":308.75,"p":0.96536},{"s":"r","i":313,"p":0.96481},{"s":"r","i":317.25,"p":0.96420},{"s":"r","i":321.25,"p":0.96370},{"s":"r","i":325.5,"p":0.96321},{"s":"r","i":330.5,"p":0.96266},{"s":"r","i":334.75,"p":0.96217},{"s":"r","i":338.75,"p":0.96173},{"s":"r","i":341.25,"p":0.96149},{"s":"r","i":347.25,"p":0.96143},{"s":"r","i":355.5,"p":0.96143},{"s":"r","i":363.75,"p":0.96118},{"s":"r","i":372.25,"p":0.96106},{"s":"r","i":380.5,"p":0.96118},{"s":"r","i":384.25,"p":0.96118}
],
"tl":[
{"g":"a","i":169,"p":0.98448},{"g":"a","i":386.5,"p":0.95570},
{"g":"b","i":138,"p":0.97473},{"g":"b","i":313,"p":0.95158}
],
"hl":[{"p":0.96650},{"p":0.95410}],
"lab":[{"p":0.96650,"t":"0.96650","k":"level"},{"p":0.95410,"t":"0.95410","k":"level"},{"p":0.96216,"t":"0.96216","k":"price"}]
},
"layer":[
{"data":{"name":"bars"},
 "mark":{"type":"rule","color":"black","strokeWidth":1,"clip":true},
 "encoding":{
  "x":{"field":"i","type":"quantitative","scale":{"domain":[0.375,386.375],"nice":false,"zero":false},
   "axis":{"values":[0,16,32,48,64,80,96,112,128,144,160,176,192,208,224,240,256,272,288,304,320,336,352,368,384],"tickCount":60,
    "labelExpr":"['29 Dec 2017','29 Dec 17:00','2 Jan 10:00','3 Jan 02:00','3 Jan 18:00','4 Jan 10:00','5 Jan 02:00','5 Jan 18:00','8 Jan 13:00','9 Jan 05:00','9 Jan 21:00','10 Jan 13:00','11 Jan 05:00','11 Jan 21:00','12 Jan 13:00','15 Jan 06:00','15 Jan 22:00','16 Jan 14:00','17 Jan 06:00','17 Jan 22:00','18 Jan 14:00','19 Jan 06:00','21 Jan 23:00','22 Jan 15:00','23 Jan 07:00'][round(datum.value/16)]",
    "labelAlign":"left","labelFont":"Liberation Sans","labelFontSize":9,"labelColor":"black","tickSize":4,"tickColor":"black","domainColor":"black","labelPadding":1,"grid":false,"title":null,"labelOverlap":false,"labelFlush":false,"labelBound":false}},
  "y":{"field":"l","type":"quantitative","scale":{"domain":[0.95263,0.98585],"nice":false,"zero":false},
   "axis":{"orient":"right","values":[0.98535,0.9833,0.98125,0.97925,0.9772,0.9752,0.97315,0.9711,0.9691,0.96705,0.96505,0.963,0.96095,0.95895,0.9569,0.9549,0.95285],"tickCount":40,
    "format":".5f","labelFont":"Liberation Sans","labelFontSize":10,"labelColor":"black","tickSize":4,"tickColor":"black","domainColor":"black","labelPadding":2,"grid":false,"title":null,"labelOverlap":false,"labelFlush":false,"labelBound":false}},
  "y2":{"field":"h"}}},
{"data":{"name":"bars"},
 "mark":{"type":"bar","orient":"vertical","size":2,"stroke":"black","strokeWidth":1,"clip":true},
 "encoding":{
  "x":{"field":"i","type":"quantitative"},
  "y":{"field":"o","type":"quantitative"},
  "y2":{"field":"c"},
  "color":{"condition":{"test":"datum.c >= datum.o","value":"#008000"},"value":"#B22222"}}},
{"data":{"name":"ma"},
 "mark":{"type":"line","strokeWidth":2,"clip":true},
 "encoding":{
  "x":{"field":"i","type":"quantitative"},
  "y":{"field":"p","type":"quantitative"},
  "detail":{"field":"s"},
  "color":{"field":"s","type":"nominal","scale":{"domain":["g","r"],"range":["#008000","#DC143C"]},"legend":null}}},
{"data":{"name":"tl"},
 "mark":{"type":"line","strokeWidth":2,"color":"#0000FF","clip":true},
 "encoding":{
  "x":{"field":"i","type":"quantitative"},
  "y":{"field":"p","type":"quantitative"},
  "detail":{"field":"g"}}},
{"data":{"name":"hl"},
 "mark":{"type":"rule","strokeWidth":2,"color":"#2F4F4F"},
 "encoding":{"y":{"field":"p","type":"quantitative"}}},
{"data":{"name":"lab"},
 "mark":{"type":"point","shape":"M0,-1H6.8V1H0Z","size":169,"filled":true,"opacity":1,"clip":false},
 "encoding":{
  "x":{"datum":386.375},
  "y":{"field":"p","type":"quantitative"},
  "color":{"condition":{"test":"datum.k == 'price'","value":"#000000"},"value":"#2F4F4F"}}},
{"data":{"name":"lab"},
 "mark":{"type":"text","align":"left","baseline":"middle","dx":4,"font":"Liberation Sans","fontSize":10,"color":"white","clip":false},
 "encoding":{
  "x":{"datum":386.375},
  "y":{"field":"p","type":"quantitative"},
  "text":{"field":"t"}}}
]
}
